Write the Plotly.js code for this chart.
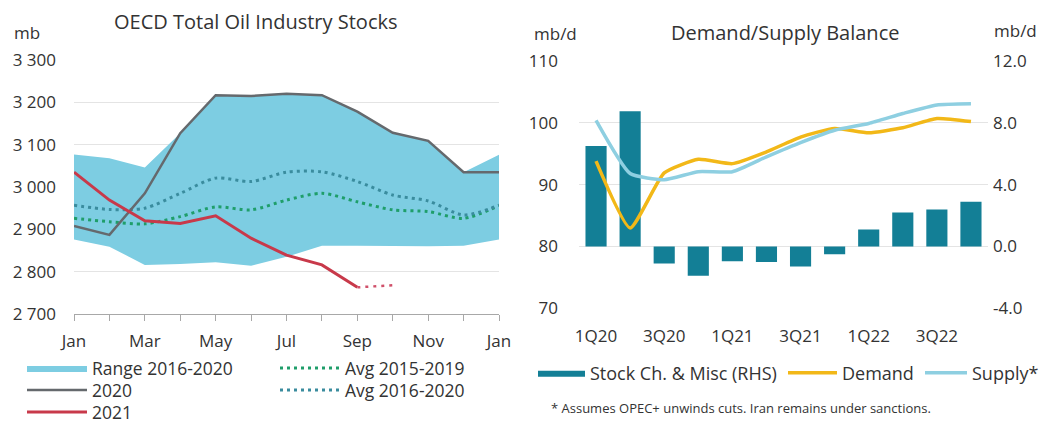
<!DOCTYPE html>
<html><head><meta charset="utf-8">
<script src="https://cdn.plot.ly/plotly-3.0.1.min.js"></script>
<style>html,body{margin:0;padding:0;background:#fff}</style>
</head><body><div id="chart" style="width:1041px;height:423px"></div>
<script>
// ---- Left chart data (mb) ----
const monthLabels = ['Jan','Feb','Mar','Apr','May','Jun','Jul','Aug','Sep','Oct','Nov','Dec','Jan'];
const monthTickText = ['Jan','','Mar','','May','','Jul','','Sep','','Nov','','Jan'];
const rangeLow  = [2876,2859,2816,2818,2822,2814,2835,2861,2861,2860,2860,2861,2876];
const rangeHigh = [3077,3068,3046,3127,3217,3215,3220,3217,3178,3128,3109,3035,3076];
const stocks2020 = [2908,2887,2985,3127,3217,3215,3220,3217,3178,3128,3109,3035,3035];
const avg1519 = [2926,2918,2913,2930,2953,2946,2969,2985,2965,2946,2942,2926,2956];
const avg1620 = [2957,2947,2950,2985,3021,3013,3035,3036,3013,2981,2967,2934,2957];
const stocks2021 = [3035,2969,2920,2914,2932,2879,2839,2816,2763];
const stocks2021Est = [2763,2768];
const stockTickVals = [2700,2800,2900,3000,3100,3200,3300];
const stockTickText = ['2 700','2 800','2 900','3 000','3 100','3 200','3 300'];

// ---- Right chart data (mb/d) ----
const quarters = ['1Q20','2Q20','3Q20','4Q20','1Q21','2Q21','3Q21','4Q21','1Q22','2Q22','3Q22','4Q22'];
const quarterTicks = ['1Q20','3Q20','1Q21','3Q21','1Q22','3Q22'];
const stockChange = [6.5,8.75,-1.1,-1.9,-0.95,-1.0,-1.3,-0.5,1.1,2.2,2.4,2.9];
const demand = [93.8,83.0,91.9,94.1,93.4,95.3,97.7,99.1,98.4,99.2,100.7,100.2];
const supply = [100.4,91.8,90.8,92.1,92.1,94.5,96.8,98.8,99.9,101.5,102.9,103.1];
const balanceTickVals = [70,80,90,100,110];
const changeTickVals = [-4,0,4,8,12];
const changeTickText = ['-4.0','0.0','4.0','8.0','12.0'];

const idx = monthLabels.map((m,i)=>i);
const FONT = 'Open Sans, Noto Sans, sans-serif';
const TXT = '#333333';
const BAR = '#137f96';

const traces = [
  {x: idx, y: rangeLow, xaxis:'x', yaxis:'y', mode:'lines', line:{width:0, color:'#7dcde2'}, showlegend:false, hoverinfo:'skip'},
  {x: idx, y: rangeHigh, xaxis:'x', yaxis:'y', mode:'lines', fill:'tonexty', fillcolor:'#7dcde2', line:{width:0, color:'#7dcde2'}, name:'Range 2016-2020', legend:'legend'},
  {x: idx, y: avg1519, xaxis:'x', yaxis:'y', mode:'lines', line:{color:'#1f9e6a', width:3, dash:'3px,4px', shape:'spline', smoothing:0.8}, name:'Avg 2015-2019', legend:'legend4'},
  {x: idx, y: avg1620, xaxis:'x', yaxis:'y', mode:'lines', line:{color:'#3a8c9e', width:3, dash:'3px,4px', shape:'spline', smoothing:0.8}, name:'Avg 2016-2020', legend:'legend5'},
  {x: idx, y: stocks2020, xaxis:'x', yaxis:'y', mode:'lines', line:{color:'#65696d', width:2.5}, name:'2020', legend:'legend2'},
  {x: idx.slice(0, stocks2021.length), y: stocks2021, xaxis:'x', yaxis:'y', mode:'lines', line:{color:'#c8394a', width:3}, name:'2021', legend:'legend3'},
  {x: idx.slice(stocks2021.length-1, stocks2021.length-1+stocks2021Est.length), y: stocks2021Est, xaxis:'x', yaxis:'y', mode:'lines', line:{color:'#d0506a', width:2.5, dash:'3px,5px'}, showlegend:false},
  {x: quarters, y: stockChange, xaxis:'x2', yaxis:'y3', type:'bar', marker:{color:BAR}, width:0.62, name:'Stock Ch. & Misc (RHS)', showlegend:false},
  {x: [null], y: [null], xaxis:'x2', yaxis:'y3', mode:'lines', fill:'toself', fillcolor:BAR, line:{width:0, color:BAR}, name:'Stock Ch. & Misc (RHS)', legend:'legend6'},
  {x: quarters, y: demand, xaxis:'x2', yaxis:'y4', mode:'lines', line:{color:'#f2b818', width:3.5, shape:'spline', smoothing:0.5}, name:'Demand', legend:'legend7'},
  {x: quarters, y: supply, xaxis:'x2', yaxis:'y4', mode:'lines', line:{color:'#8ecfe1', width:3.5, shape:'spline', smoothing:0.5}, name:'Supply*', legend:'legend8'}
];

const W = 1041, H = 423;
const px = v => v / W, py = v => (H - v) / H;

function leg(x, y, w, size) {
  return {font:{family:FONT, size:size, color:TXT}, bgcolor:'rgba(0,0,0,0)', itemwidth:w, tracegroupgap:0, traceorder:'normal',
          x:px(x), y:py(y), xanchor:'left', yanchor:'middle', orientation:'v', itemclick:false, itemdoubleclick:false};
}
const TF = {family:FONT, size:17, color:TXT};

const layout = {
  width: W, height: H,
  margin:{l:0, r:0, t:0, b:0, autoexpand:false},
  paper_bgcolor:'#ffffff', plot_bgcolor:'rgba(0,0,0,0)',
  font:{family:FONT, color:TXT, size:17},
  showlegend:true,
  barmode:'overlay',
  xaxis:{domain:[px(74), px(499)], range:[0,12], tickvals: idx, ticktext: monthTickText,
         ticks:'outside', ticklen:6, tickcolor:'#a8a8a8', showline:true, linecolor:'#a8a8a8', linewidth:1,
         showgrid:false, zeroline:false, anchor:'y', fixedrange:true, ticklabelstandoff:6, tickfont:TF, automargin:false},
  yaxis:{domain:[py(314), py(60)], range:[2700,3300], tickvals: stockTickVals, ticktext: stockTickText,
         showgrid:true, gridcolor:'#e4e4e4', gridwidth:1, zeroline:false, ticks:'', anchor:'x', fixedrange:true,
         ticklabelstandoff:17, tickfont:TF, automargin:false},
  xaxis2:{domain:[px(579), px(988)], type:'category', range:[-0.5, 11.5], tickvals: quarterTicks,
          showline:false, ticks:'', showgrid:false, zeroline:false, anchor:'y3', fixedrange:true,
          ticklabelstandoff:16, tickfont:TF, automargin:false},
  yaxis3:{domain:[py(308.3), py(61)], range:[-4,12], tickvals: changeTickVals, ticktext: changeTickText, side:'right', anchor:'x2',
          showgrid:true, gridcolor:'#e4e4e4', zeroline:false, ticks:'', fixedrange:true, ticklabelstandoff:4, tickfont:TF, automargin:false},
  yaxis4:{domain:[py(308.3), py(61)], range:[70,110], tickvals: balanceTickVals, overlaying:'y3', side:'left', anchor:'x2',
          showgrid:false, zeroline:false, ticks:'', fixedrange:true, ticklabelstandoff:20, tickfont:TF, automargin:false},
  legend: leg(22, 368, 60, 17.5),
  legend2: leg(22, 390, 60, 17.5),
  legend3: leg(22, 412, 60, 17.5),
  legend4: leg(275, 368, 60, 17.5),
  legend5: leg(275, 390, 60, 17.5),
  legend6: leg(533, 373, 47, 18),
  legend7: leg(783, 373, 49, 18),
  legend8: leg(920, 373, 42, 18),
  annotations:[
    {text:'OECD Total Oil Industry Stocks', x:px(256), y:py(22), xref:'paper', yref:'paper', showarrow:false, xanchor:'center', yanchor:'middle', font:{family:FONT, size:20, color:TXT}},
    {text:'Demand/Supply Balance', x:px(785), y:py(32), xref:'paper', yref:'paper', showarrow:false, xanchor:'center', yanchor:'middle', font:{family:FONT, size:20, color:TXT}},
    {text:'mb', x:px(12), y:py(32), xref:'paper', yref:'paper', showarrow:false, xanchor:'left', yanchor:'middle', font:{family:FONT, size:17, color:TXT}},
    {text:'mb/d', x:px(532), y:py(33), xref:'paper', yref:'paper', showarrow:false, xanchor:'left', yanchor:'middle', font:{family:FONT, size:17, color:TXT}},
    {text:'mb/d', x:px(1039), y:py(31), xref:'paper', yref:'paper', showarrow:false, xanchor:'right', yanchor:'middle', font:{family:FONT, size:17, color:TXT}},
    {text:'* Assumes OPEC+ unwinds cuts. Iran remains under sanctions.', x:px(549), y:py(408), xref:'paper', yref:'paper', showarrow:false, xanchor:'left', yanchor:'middle', font:{family:FONT, size:13, color:TXT}}
  ]
};

Plotly.newPlot('chart', traces, layout, {displayModeBar:false, staticPlot:true});
</script>
</body></html>
